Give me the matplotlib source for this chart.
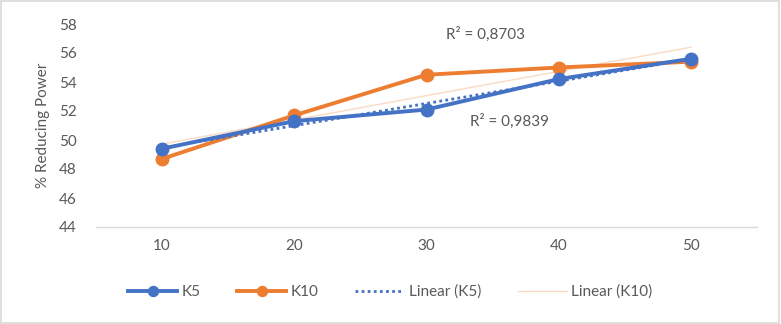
import numpy as np
import matplotlib
matplotlib.use("Agg")
import matplotlib.pyplot as plt
from matplotlib.patches import Rectangle

categories = ["10", "20", "30", "40", "50"]
k5 = [49.4, 51.3, 52.1, 54.2, 55.6]
k10 = [48.7, 51.7, 54.5, 55.0, 55.4]
r2_k5 = "R² = 0,9839"
r2_k10 = "R² = 0,8703"
yticks = [44, 46, 48, 50, 52, 54, 56, 58]

plt.rcParams['font.family'] = ['Lato', 'DejaVu Sans']
blue = "#4472C4"
orange = "#ED7D31"
gray = "#595959"
fs = 11

fig = plt.figure(figsize=(7.81, 3.24), dpi=100)
ax = fig.add_axes([96/781, 1-227/324, (757-96)/781, (227-24)/324])

x = np.arange(len(categories))
l1, = ax.plot(x, k5, color=blue, lw=2.8, marker='o', ms=9, label="K5", zorder=4)
l2, = ax.plot(x, k10, color=orange, lw=2.8, marker='o', ms=9, label="K10", zorder=3)

xn = x + 1
p5 = np.polyfit(xn, k5, 1)
p10 = np.polyfit(xn, k10, 1)
l3, = ax.plot(x, np.polyval(p5, xn), color=blue, lw=2.0, ls=(0, (1, 1.2)), label="Linear (K5)", zorder=5)
l4, = ax.plot(x, np.polyval(p10, xn), color="#F8CBAD", lw=1.0, alpha=0.7, label="Linear (K10)", zorder=2)

ax.set_xlim(-0.5, 4.5)
ax.set_ylim(44, 58)
ax.set_yticks(yticks)
ax.set_xticks(x)
ax.set_xticklabels(categories)
ax.tick_params(axis='both', length=0, labelsize=fs, colors=gray)
ax.tick_params(axis='y', pad=14)
ax.tick_params(axis='x', pad=9)
for s in ['top', 'right', 'left']:
    ax.spines[s].set_visible(False)
ax.spines['bottom'].set_color("#D9D9D9")
ax.spines['bottom'].set_linewidth(1)
ax.set_ylabel("% Reducing Power", fontsize=fs, color=gray, labelpad=6)

ax.text(2.15, 57.3, r2_k10, fontsize=fs, color=gray, ha='left', va='center')
ax.text(2.33, 51.3, r2_k5, fontsize=fs, color=gray, ha='left', va='center')

fig.legend(handles=[l1, l2, l3, l4], loc='center', bbox_to_anchor=(0.5, 1-292/324),
           ncol=4, frameon=False, fontsize=fs, handlelength=3.2, columnspacing=2.4,
           handletextpad=0.3, labelcolor=gray, markerscale=0.8)

fig.patches.append(Rectangle((0.001, 0.002), 0.997, 0.995, transform=fig.transFigure,
                             fill=False, edgecolor="#D9D9D9", lw=1.2))

fig.savefig("out.png", dpi=100)
